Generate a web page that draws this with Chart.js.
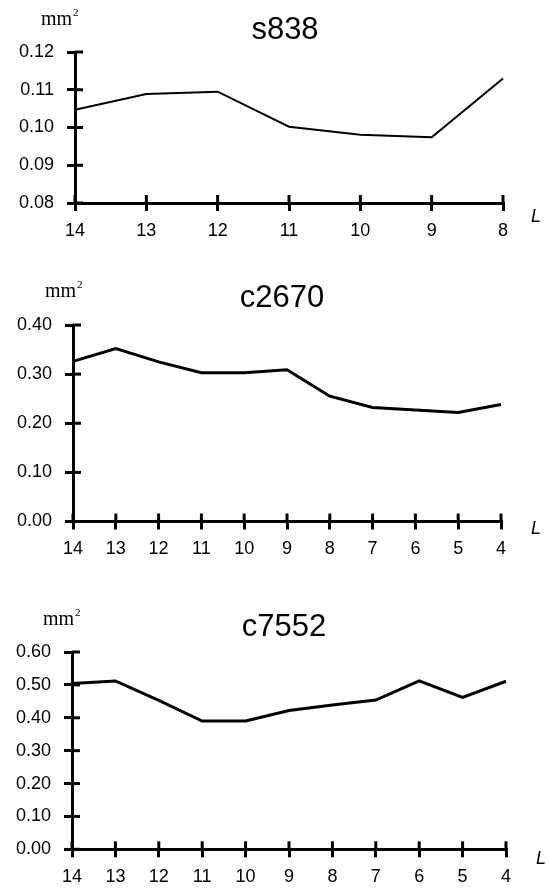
<!DOCTYPE html>
<html>
<head>
<meta charset="utf-8">
<script src="https://cdn.jsdelivr.net/npm/chart.js@4/dist/chart.umd.min.js"></script>
<style>
  html,body{margin:0;padding:0;background:#fff;overflow:hidden;}
  canvas{position:absolute;left:0;}
</style>
</head>
<body>
<canvas id="c1" width="549" height="240" style="top:0px"></canvas>
<canvas id="c2" width="549" height="290" style="top:270px"></canvas>
<canvas id="c3" width="549" height="308" style="top:580px"></canvas>
<script>
// ---- data ----
const labelsS838 = ['14','13','12','11','10','9','8'];
const valuesS838 = [0.1047, 0.1089, 0.1095, 0.1002, 0.0981, 0.0974, 0.1130];

const labelsC2670 = ['14','13','12','11','10','9','8','7','6','5','4'];
const valuesC2670 = [0.326, 0.352, 0.325, 0.303, 0.303, 0.309, 0.255, 0.232, 0.227, 0.222, 0.238];

const labelsC7552 = ['14','13','12','11','10','9','8','7','6','5','4'];
const valuesC7552 = [0.504, 0.512, 0.453, 0.390, 0.390, 0.422, 0.439, 0.454, 0.512, 0.462, 0.511];

const titles = ['s838', 'c2670', 'c7552'];
const unitText = 'mm';
const unitSup = '2';
const xAxisName = 'L';

// ---- decoration plugin: inner tick halves, title, unit, axis name ----
const decor = {
  id: 'decor',
  afterDraw(chart, args, o) {
    const ctx = chart.ctx, a = chart.chartArea;
    const xs = chart.scales.x, ys = chart.scales.y;
    ctx.save();
    ctx.strokeStyle = '#000';
    ctx.lineWidth = 3;
    ys.ticks.forEach((t, i) => {
      const y = ys.getPixelForTick(i);
      ctx.beginPath(); ctx.moveTo(a.left, y); ctx.lineTo(a.left + 8, y); ctx.stroke();
    });
    xs.ticks.forEach((t, i) => {
      const x = xs.getPixelForTick(i);
      ctx.beginPath(); ctx.moveTo(x, a.bottom); ctx.lineTo(x, a.bottom - 8); ctx.stroke();
    });
    ctx.fillStyle = '#000';
    ctx.font = '31px "Liberation Sans", Arial, sans-serif';
    ctx.textAlign = 'center';
    ctx.textBaseline = 'middle';
    ctx.fillText(o.title, o.tx, o.ty);
    ctx.textAlign = 'left';
    ctx.textBaseline = 'alphabetic';
    ctx.font = '20px "Liberation Serif", "Times New Roman", serif';
    ctx.fillText(unitText, o.mx, o.my);
    const w = ctx.measureText(unitText).width;
    ctx.font = '11px "Liberation Serif", "Times New Roman", serif';
    ctx.fillText(unitSup, o.mx + w + 1, o.my - 9);
    ctx.font = 'italic 18px "Liberation Sans", Arial, sans-serif';
    ctx.fillText(xAxisName, o.lx, o.ly);
    ctx.restore();
  }
};

function makeChart(id, labels, values, ymin, ymax, step, lw, lay, deco) {
  return new Chart(document.getElementById(id), {
    type: 'line',
    data: {
      labels: labels,
      datasets: [{
        data: values,
        borderColor: '#000',
        borderWidth: lw,
        pointRadius: 0,
        tension: 0,
        fill: false,
        clip: false
      }]
    },
    options: {
      responsive: false,
      animation: false,
      devicePixelRatio: 1,
      layout: { padding: { top: lay.top, right: lay.right, left: 0, bottom: 0 } },
      plugins: {
        legend: { display: false },
        tooltip: { enabled: false },
        title: { display: false },
        decor: deco
      },
      scales: {
        x: {
          type: 'category',
          offset: false,
          grid: { drawOnChartArea: false, drawTicks: true, tickLength: 8, lineWidth: 3, color: '#000' },
          border: { display: true, width: 3, color: '#000' },
          ticks: { color: '#000', padding: 9, maxRotation: 0, autoSkip: false,
                   font: { family: '"Liberation Sans", Arial, sans-serif', size: 18 } },
          afterFit(s) { s.height = lay.xh; }
        },
        y: {
          min: ymin, max: ymax,
          grid: { drawOnChartArea: false, drawTicks: true, tickLength: 8, lineWidth: 3, color: '#000' },
          border: { display: true, width: 3, color: '#000' },
          ticks: { color: '#000', padding: 13, stepSize: step,
                   font: { family: '"Liberation Sans", Arial, sans-serif', size: 18 },
                   callback: v => Number(v).toFixed(2) },
          afterFit(s) { s.width = lay.yw; }
        }
      }
    },
    plugins: [decor]
  });
}

makeChart('c1', labelsS838, valuesS838, 0.08, 0.12, 0.01, 2,
  { top: 52, right: 46, xh: 37, yw: 75 },
  { title: titles[0], tx: 285, ty: 30, mx: 41, my: 25, lx: 531, ly: 222 });

makeChart('c2', labelsC2670, valuesC2670, 0, 0.4, 0.1, 3,
  { top: 55, right: 48, xh: 38.5, yw: 73 },
  { title: titles[1], tx: 282, ty: 28.5, mx: 45, my: 27, lx: 531, ly: 264 });

makeChart('c3', labelsC7552, valuesC7552, 0, 0.6, 0.1, 3,
  { top: 72, right: 43, xh: 38.7, yw: 72 },
  { title: titles[2], tx: 284, ty: 47.5, mx: 43, my: 45, lx: 536, ly: 284 });
</script>
</body>
</html>
